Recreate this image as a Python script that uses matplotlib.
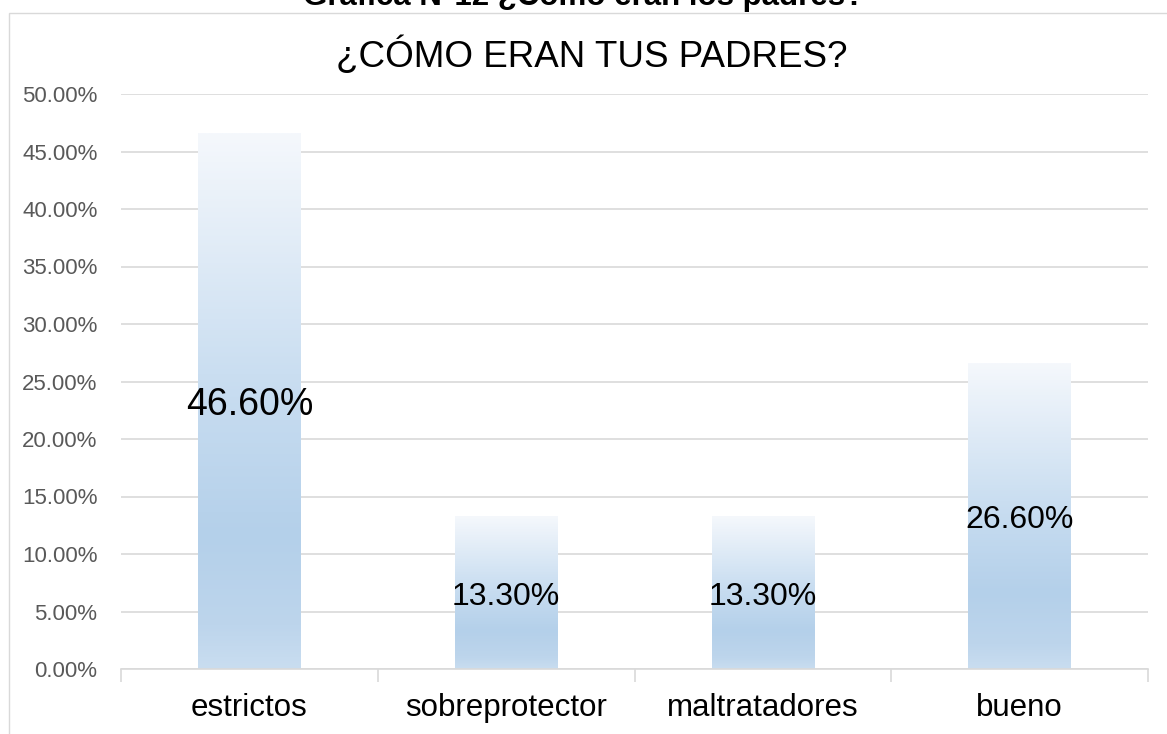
import numpy as np
import matplotlib.pyplot as plt
from matplotlib.colors import LinearSegmentedColormap
from matplotlib.patches import Rectangle
from matplotlib.ticker import FuncFormatter, MultipleLocator

plt.rcParams["font.family"] = ["Liberation Sans", "DejaVu Sans"]

# Datos
categorias = ["estrictos", "sobreprotector", "maltratadores", "bueno"]
valores = [46.6, 13.3, 13.3, 26.6]
etiquetas = ["46.60%", "13.30%", "13.30%", "26.60%"]
tam_etiquetas = [27, 23, 23, 23]

W, H = 1167, 734
fig = plt.figure(figsize=(W / 100, H / 100), dpi=100)

# marco del grafico (estilo Excel), abierto a la derecha y abajo
fig.add_artist(Rectangle((9 / W, -0.1), 1.2, 1.1 - 12.7 / H,
                         transform=fig.transFigure, fill=False,
                         edgecolor="#d9d9d9", linewidth=1.0))

# titulo superior cortado por el borde
fig.text(584 / W, 1 - 4.5 / H, "Gráfica N°12 ¿Cómo eran los padres?",
         ha="center", va="baseline", fontsize=22.5, fontweight="bold")

ax = fig.add_axes([121 / W, 1 - 669 / H, (1148 - 121) / W, (669 - 94) / H])

# degradado de las barras
cmap = LinearSegmentedColormap.from_list(
    "excel", [(0.0, "#c9ddf0"), (0.08, "#bdd5ec"), (0.25, "#b4d0ea"),
              (0.55, "#cadef1"), (1.0, "#f5f8fc")])
grad = np.linspace(0, 1, 256).reshape(-1, 1)
ancho = 0.4
for i, v in enumerate(valores):
    ax.imshow(grad, extent=(i - ancho / 2, i + ancho / 2, 0, v), origin="lower",
              cmap=cmap, aspect="auto", zorder=2)
    ax.annotate(etiquetas[i], (i, v / 2), xytext=(0, -3),
                textcoords="offset points", ha="center", va="center",
                fontsize=tam_etiquetas[i], color="black", zorder=3)
ax.set_xlim(-0.5, 3.5)
ax.set_ylim(0, 50)

ax.yaxis.set_major_locator(MultipleLocator(5))
ax.yaxis.set_major_formatter(FuncFormatter(lambda y, _: f"{y:.2f}%"))
ax.grid(axis="y", color="#d9d9d9", linewidth=1.2, zorder=0)
ax.set_axisbelow(True)
ax.tick_params(axis="y", length=0, labelsize=16, labelcolor="#595959", pad=17)

ax.set_xticks(range(4))
ax.set_xticklabels(categorias, fontsize=22.5)
ax.set_xticks([-0.5, 0.5, 1.5, 2.5, 3.5], minor=True)
ax.tick_params(axis="x", which="major", length=0, pad=17)
ax.tick_params(axis="x", which="minor", length=9, color="#d9d9d9", width=1.2)

for s in ["top", "right", "left"]:
    ax.spines[s].set_visible(False)
ax.spines["bottom"].set_color("#d9d9d9")
ax.spines["bottom"].set_linewidth(1.2)

fig.text(592 / W, 1 - 56 / H, "¿CÓMO ERAN TUS PADRES?", ha="center",
         va="center", fontsize=26.5, color="black")

fig.savefig("out.png", dpi=100)
